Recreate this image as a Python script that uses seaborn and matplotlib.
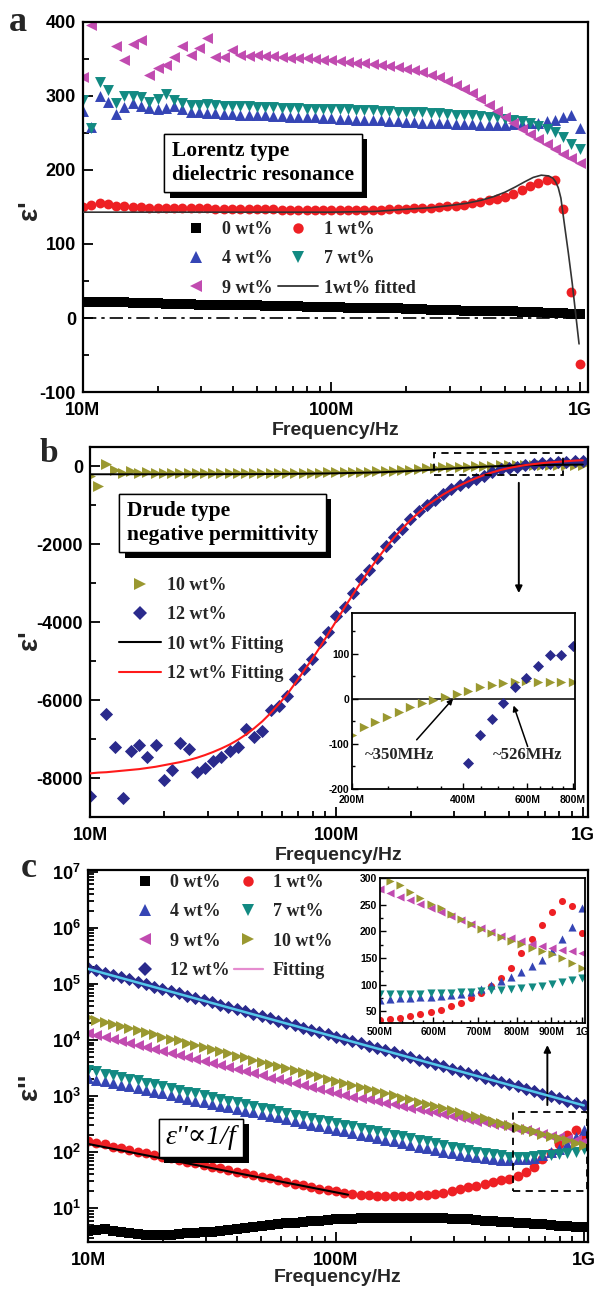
import numpy as np
import matplotlib
matplotlib.use("Agg")
import matplotlib.pyplot as plt
import seaborn as sns
from matplotlib import ticker
from matplotlib import patheffects as pe
from matplotlib.lines import Line2D
from matplotlib.patches import Rectangle

# ---------------- data ----------------
freq = np.logspace(7, 9, 61)          # measurement sweep (Hz), 61 log-spaced points

# panel a : epsilon'
a_0wt = [22,22,21,21,21,21,20,20,20,20,
         19,19,19,19,18,18,18,18,17,17,
         17,17,16,16,16,16,16,15,15,15,
         15,15,14,14,14,13,13,13,13,12,
         12,12,11,11,11,11,10,10,10,9,
         9,9,9,8,8,8,7,7,7,6,
         6]
a_1wt = [150,153,155,154,152,151,150,150,149,149,
         149,148,148,148,148,148,147,147,147,147,
         147,147,147,147,146,146,146,146,146,146,
         146,146,146,146,146,146,146,147,147,147,
         148,148,149,150,151,152,153,155,157,159,
         161,164,168,173,178,183,186,186,147,35,
         -62]
a_4wt = [280,258,300,292,276,285,290,287,284,282,
         284,286,282,278,278,277,277,276,276,275,
         275,274,274,273,273,272,272,271,271,270,
         270,269,269,268,268,267,267,266,266,265,
         265,264,264,263,263,262,262,262,261,261,
         261,261,262,262,263,264,266,268,271,274,
         257]
a_7wt = [295,257,319,308,290,300,300,298,292,296,
         303,294,290,288,288,289,288,287,287,286,
         286,285,285,285,284,284,284,283,283,283,
         282,282,282,281,281,281,280,280,279,279,
         278,278,277,277,276,275,275,274,273,272,
         271,269,268,266,263,260,256,251,244,235,
         228]
a_9wt = [326,396,425,415,367,349,370,376,328,338,
         342,353,367,356,365,378,353,353,362,356,
         354,355,354,354,353,352,352,351,350,349,
         348,347,346,345,344,343,342,340,339,337,
         335,332,329,326,320,315,310,304,296,288,
         280,271,263,256,249,242,235,228,222,216,
         210]
a_fit_MHz = [10, 50, 100, 150, 200, 250, 300, 350, 400, 450, 500, 550, 600,
             650, 700, 750, 780, 800, 820, 840, 870, 900, 933, 966, 994]
a_fit_val = [143, 143, 143, 144, 147, 149, 152, 155, 159, 164, 170, 177, 184,
             190, 193, 192, 189, 184, 176, 162, 124, 88, 47, 2, -35]

# panel b : epsilon'
b_10wt = [-250,-500,60,-80,-180,-120,-160,-150,-170,-160,
          -170,-160,-175,-170,-165,-170,-175,-170,-165,-170,
          -170,-168,-165,-165,-162,-160,-160,-158,-155,-152,
          -150,-146,-142,-137,-131,-124,-116,-107,-97,-80,
          -64,-50,-37,-26,-16,-7,-1,7,13,21,
          28,34,37,39,40,38,37,36,36,35,
          35]
b_12wt = [-8450,np.nan,-6350,-7200,-8500,-7300,-7150,-7450,-7150,-8050,
          -7800,-7100,-7250,-7850,-7750,-7550,-7450,-7300,-7200,-6750,
          -6950,-6800,-6250,-6150,-5900,-5450,-5200,-4950,-4500,-4250,
          -3850,-3600,-3250,-2900,-2650,-2350,-2050,-1800,-1600,-1350,
          -1150,-1000,-850,-700,-580,-470,-400,-330,-250,-140,
          -75,-40,-10,30,55,90,98,115,125,135,
          140]
b_fit12 = [-7880,-7860,-7850,-7830,-7810,-7790,-7770,-7740,-7710,-7670,
           -7630,-7590,-7540,-7480,-7410,-7330,-7240,-7140,-7020,-6880,
           -6720,-6540,-6330,-6100,-5850,-5560,-5260,-4960,-4640,-4300,
           -3960,-3620,-3290,-2970,-2660,-2370,-2090,-1830,-1600,-1380,
           -1190,-1010,-860,-720,-600,-490,-390,-300,-220,-150,
           -90,-40,0,35,60,85,105,120,135,150,
           160]
b_fit10_MHz = [10, 20, 30, 50, 70, 100, 150, 200, 250, 300, 400, 500, 600, 800, 1000]
b_fit10_val = [-200, -200, -198, -195, -188, -175, -150, -115, -80, -50, -5, 20, 32, 42, 48]

# panel b inset (200M - 800M)
bi_freq = np.geomspace(2e8, 8e8, 20)
bi_10wt = [-80,-63,-51,-40,-29,-19,-9,-3,4,10,17,25,31,35,38,40,38,38,36,36]
bi_12wt = [-1400,-1250,-1100,-950,-800,-680,-560,-450,-350,-260,
           -142,-80,-44,-10,25,47,73,98,98,117]

# panel c : epsilon'' (log10 of the value)
c_0wt_log = [0.60,0.62,0.63,0.60,0.57,0.55,0.54,0.53,0.53,0.53,
             0.53,0.54,0.55,0.56,0.57,0.58,0.60,0.61,0.63,0.65,
             0.66,0.68,0.70,0.71,0.73,0.74,0.76,0.77,0.78,0.79,
             0.80,0.81,0.81,0.82,0.82,0.83,0.83,0.83,0.83,0.83,
             0.83,0.83,0.82,0.82,0.81,0.81,0.80,0.79,0.78,0.77,
             0.76,0.75,0.74,0.73,0.72,0.71,0.70,0.69,0.68,0.67,
             0.66]
c_1wt_log = [2.19,2.17,2.14,2.10,2.07,2.04,2.01,1.98,1.95,1.92,
             1.89,1.86,1.83,1.80,1.77,1.74,1.71,1.68,1.65,1.62,
             1.59,1.56,1.53,1.50,1.47,1.44,1.41,1.38,1.35,1.32,
             1.30,1.28,1.26,1.24,1.23,1.22,1.22,1.21,1.21,1.22,
             1.23,1.24,1.26,1.28,1.31,1.34,1.37,1.40,1.43,1.47,
             1.50,1.52,1.58,1.64,1.74,1.87,1.99,2.15,2.30,2.40,
             2.29]
c_4wt_log = [3.32,3.29,3.26,3.23,3.20,3.17,3.14,3.11,3.08,3.05,
             3.01,2.98,2.95,2.92,2.89,2.86,2.83,2.80,2.77,2.74,
             2.71,2.68,2.65,2.62,2.59,2.56,2.52,2.49,2.46,2.43,
             2.40,2.37,2.34,2.31,2.28,2.25,2.22,2.19,2.16,2.13,
             2.10,2.07,2.04,2.01,1.98,1.95,1.93,1.91,1.89,1.87,
             1.86,1.86,1.87,1.88,1.90,1.94,2.00,2.06,2.15,2.27,
             2.39]
c_7wt_log = [3.47,3.44,3.40,3.37,3.34,3.31,3.28,3.24,3.21,3.18,
             3.15,3.11,3.08,3.05,3.02,2.99,2.95,2.92,2.89,2.86,
             2.83,2.79,2.76,2.73,2.70,2.67,2.64,2.61,2.58,2.55,
             2.52,2.49,2.46,2.43,2.40,2.37,2.34,2.31,2.28,2.25,
             2.22,2.19,2.16,2.13,2.10,2.07,2.04,2.01,1.99,1.97,
             1.94,1.92,1.92,1.92,1.93,1.94,1.95,1.96,1.99,2.01,
             2.05]
c_9wt_log = [4.12,4.08,4.05,4.01,3.98,3.94,3.91,3.87,3.83,3.80,
             3.76,3.73,3.69,3.66,3.62,3.58,3.55,3.51,3.48,3.44,
             3.41,3.37,3.33,3.30,3.26,3.23,3.19,3.16,3.12,3.09,
             3.05,3.02,2.99,2.96,2.94,2.91,2.88,2.85,2.82,2.79,
             2.76,2.74,2.71,2.68,2.65,2.62,2.59,2.56,2.53,2.51,
             2.48,2.45,2.42,2.39,2.36,2.33,2.29,2.27,2.24,2.22,
             2.20]
c_10wt_log = [4.40,4.36,4.32,4.29,4.25,4.21,4.17,4.14,4.10,4.06,
              4.02,3.99,3.95,3.91,3.87,3.84,3.80,3.76,3.72,3.69,
              3.65,3.61,3.57,3.54,3.50,3.46,3.42,3.39,3.35,3.31,
              3.27,3.24,3.20,3.16,3.12,3.09,3.05,3.01,2.97,2.94,
              2.90,2.86,2.82,2.79,2.75,2.71,2.67,2.64,2.60,2.56,
              2.52,2.48,2.45,2.42,2.37,2.33,2.29,2.26,2.22,2.17,
              2.12]
c_12wt_log = [5.28,5.24,5.20,5.16,5.12,5.08,5.04,4.99,4.95,4.91,
              4.87,4.83,4.79,4.75,4.71,4.67,4.63,4.59,4.55,4.51,
              4.47,4.43,4.39,4.34,4.30,4.26,4.22,4.18,4.14,4.10,
              4.06,4.02,3.98,3.94,3.90,3.86,3.82,3.78,3.74,3.69,
              3.65,3.61,3.57,3.53,3.49,3.45,3.41,3.37,3.33,3.29,
              3.25,3.21,3.17,3.13,3.09,3.04,3.00,2.96,2.92,2.88,
              2.84]
c_fit1_MHz = [10, 112]
c_fit1_val = [140, 17.4]
c_fit12_MHz = [10, 1000]
c_fit12_val = [1.85e5, 680]

# panel c inset (500M - 1G)
ci_freq = np.geomspace(5e8, 1e9, 21)
ci_1wt = [33,35,38,41,44,48,53,59,66,75,85,98,113,132,160,186,212,237,256,248,196]
ci_4wt = [72,73,74,75,76,77,78,80,83,87,92,100,107,115,123,134,147,164,186,208,244]
ci_7wt = [83,83,83,83,83,84,84,85,86,87,88,89,90,91,93,95,98,101,104,108,112]
ci_9wt = [280,272,265,258,251,243,236,229,222,214,206,198,192,187,181,177,172,169,165,163,159]
ci_10wt = [305,295,286,273,262,252,243,233,223,213,204,196,189,182,176,169,163,158,150,141,131]

freq_ticks = [1e7, 1e8, 1e9]
freq_ticklabels = ["10M", "100M", "1G"]
c_decades = [1e1, 1e2, 1e3, 1e4, 1e5, 1e6, 1e7]

# ---------------- style ----------------
sns.set_style("ticks")
plt.rcParams["font.family"] = ["Liberation Sans", "DejaVu Sans"]
plt.rcParams["font.weight"] = "bold"
plt.rcParams["axes.labelweight"] = "bold"
plt.rcParams["axes.unicode_minus"] = False
plt.rcParams["mathtext.fontset"] = "custom"
plt.rcParams["mathtext.rm"] = "Liberation Sans:bold"
plt.rcParams["mathtext.bf"] = "Liberation Sans:bold"
plt.rcParams["mathtext.default"] = "bf"
SERIF = ["Liberation Serif", "DejaVu Serif"]

C_BLACK = "black"
C_RED = "#ee2024"
C_BLUE = "#3545b5"
C_TEAL = "#128a82"
C_MAG = "#c14bb0"
C_OLIVE = "#9a9830"
C_NAVY = "#2a2a8c"
C_CYAN = "#55c8ea"
C_PINK = "#e58ccf"

W, H = 598, 1290
fig = plt.figure(figsize=(W / 100, H / 100), dpi=100)
fig.patch.set_facecolor("white")


def add_ax(l, t, r, b):
    return fig.add_axes([l / W, 1 - b / H, (r - l) / W, (b - t) / H])


def P(px, py):
    return (px / W, 1 - py / H)


def style_main(ax, xmax, labelpad=1.5):
    ax.set_xscale("log")
    ax.set_xlim(1e7, xmax)
    ax.xaxis.set_major_locator(ticker.FixedLocator(freq_ticks))
    ax.xaxis.set_major_formatter(ticker.FixedFormatter(freq_ticklabels))
    ax.xaxis.set_minor_locator(ticker.LogLocator(base=10, subs=np.arange(2, 10), numticks=10))
    ax.xaxis.set_minor_formatter(ticker.NullFormatter())
    ax.tick_params(which="both", direction="in", top=False, right=False, width=1.3, colors="black")
    ax.tick_params(which="major", length=7, labelsize=13, pad=5)
    ax.tick_params(axis="x", which="major", pad=7.5)
    ax.tick_params(which="minor", length=4)
    for s in ax.spines.values():
        s.set_linewidth(1.6)
        s.set_color("black")
    ax.set_xlabel("Frequency/Hz", fontsize=14, labelpad=labelpad)
    ax.set_ylabel("")
    ax.set_facecolor("white")


def style_inset(ax):
    ax.tick_params(which="both", direction="in", top=False, right=False, width=1.0, colors="black")
    ax.tick_params(which="major", length=4, labelsize=7.5, pad=2)
    ax.tick_params(axis="x", which="major", pad=4.5)
    ax.tick_params(which="minor", length=2.5)
    for s in ax.spines.values():
        s.set_linewidth(1.3)
        s.set_color("black")
    ax.set_xlabel("")
    ax.set_ylabel("")
    ax.set_facecolor("white")


def sc(ax, x, y, marker, color, s, z=2):
    sns.scatterplot(x=np.asarray(x, float), y=np.asarray(y, float), ax=ax, marker=marker,
                    color=color, s=s, linewidth=0, legend=False, zorder=z)


def ln(ax, x, y, color, lw, z=4, ls="-"):
    sns.lineplot(x=np.asarray(x, float), y=np.asarray(y, float), ax=ax, color=color,
                 linewidth=lw, estimator=None, sort=False, zorder=z, linestyle=ls, legend=False)


def boxed(px, py, s, size, ha="left", style="normal", weight="bold", pad=0.35, ls=1.15):
    x, y = P(px, py)
    t = fig.text(x, y, s, color="black", fontsize=size, family=SERIF, weight=weight, style=style,
                 ha=ha, va="center", linespacing=ls, zorder=10,
                 bbox=dict(boxstyle=f"square,pad={pad}", fc="white", ec="black", lw=1.0))
    t.get_bbox_patch().set_path_effects([
        pe.withSimplePatchShadow(offset=(3.8, -3.8), shadow_rgbFace="black", alpha=1.0),
        pe.Normal()])
    return t


def mk(marker, color, ms):
    return Line2D([], [], marker=marker, color=color, linestyle="none", markersize=ms,
                  markeredgewidth=0)


def lk(color, lw=1.5):
    return Line2D([], [], color=color, lw=lw)


LEG_PROP = dict(family=SERIF, weight="bold", size=13)

# ---------------- panel a ----------------
ax_a = add_ax(83, 22, 588, 392)
ax_a.axhline(0, color="black", lw=1.2, linestyle=(0, (8, 3, 2, 3)), zorder=1)
sc(ax_a, freq, a_0wt, "s", C_BLACK, 42)
sc(ax_a, freq, a_1wt, "o", C_RED, 50)
sc(ax_a, freq, a_4wt, "^", C_BLUE, 62)
sc(ax_a, freq, a_7wt, "v", C_TEAL, 62)
sc(ax_a, freq, a_9wt, "<", C_MAG, 62)
ln(ax_a, np.array(a_fit_MHz) * 1e6, a_fit_val, "#333333", 1.2)
style_main(ax_a, 1.08e9)
ax_a.set_ylim(-100, 400)
ax_a.yaxis.set_major_locator(ticker.MultipleLocator(100))
ax_a.yaxis.set_minor_locator(ticker.MultipleLocator(50))

h_a = [mk("s", C_BLACK, 7), mk("^", C_BLUE, 9), mk("<", C_MAG, 9),
       mk("o", C_RED, 7.5), mk("v", C_TEAL, 9), lk("#333333", 1.3)]
l_a = ["0 wt%", "4 wt%", "9 wt%", "1 wt%", "7 wt%", "1wt% fitted"]
ax_a.legend(h_a, l_a, loc="upper left", bbox_to_anchor=P(176, 221), bbox_transform=fig.transFigure,
            ncol=2, frameon=False, prop=LEG_PROP, handlelength=2.2, handletextpad=0.35,
            columnspacing=0.3, labelspacing=0.68, borderaxespad=0, borderpad=0)
boxed(172, 163, "Lorentz type\ndielectric resonance", 15.5, ls=1.25)

# ---------------- panel b ----------------
ax_b = add_ax(90, 447, 588, 817)
sc(ax_b, freq, b_10wt, ">", C_OLIVE, 62)
sc(ax_b, freq, b_12wt, "D", C_NAVY, 45)
ln(ax_b, np.array(b_fit10_MHz) * 1e6, b_fit10_val, "black", 1.4)
ln(ax_b, freq, b_fit12, "#ff1a1a", 1.5, z=5)
style_main(ax_b, 1.05e9)
ax_b.set_ylim(-9000, 500)
ax_b.yaxis.set_major_locator(ticker.MultipleLocator(2000))
ax_b.yaxis.set_minor_locator(ticker.MultipleLocator(1000))
ax_b.add_patch(Rectangle((2.5e8, -220), 8.3e8 - 2.5e8, 570, fill=False, ec="black",
                         lw=1.3, ls=(0, (4, 3)), zorder=6))
ax_b.annotate("", xy=(5.5e8, -3250), xytext=(5.5e8, -420),
              arrowprops=dict(arrowstyle="-|>", color="black", lw=1.4, mutation_scale=10,
                              shrinkA=0, shrinkB=0))
h_b = [mk(">", C_OLIVE, 9), mk("D", C_NAVY, 7), lk("black", 1.5), lk("#ff1a1a", 1.5)]
l_b = ["10 wt%", "12 wt%", "10 wt% Fitting", "12 wt% Fitting"]
ax_b.legend(h_b, l_b, loc="upper left", bbox_to_anchor=P(119, 577), bbox_transform=fig.transFigure,
            ncol=1, frameon=False, prop=LEG_PROP, handlelength=2.35, handletextpad=0.3,
            labelspacing=0.68, borderaxespad=0, borderpad=0)
boxed(127, 523, "Drude type\nnegative permittivity", 15.5, ls=1.25)

# inset b
ax_bi = add_ax(352, 613, 575, 789)
ax_bi.axhline(0, color="black", lw=1.1, zorder=1)
sc(ax_bi, bi_freq, bi_10wt, ">", C_OLIVE, 45)
sc(ax_bi, bi_freq, bi_12wt, "D", C_NAVY, 32)
ax_bi.set_xscale("log")
ax_bi.set_xlim(2e8, 8.1e8)
ax_bi.set_ylim(-200, 190)
ax_bi.xaxis.set_major_locator(ticker.FixedLocator([2e8, 4e8, 6e8, 8e8]))
ax_bi.xaxis.set_major_formatter(ticker.FixedFormatter(["200M", "400M", "600M", "800M"]))
ax_bi.xaxis.set_minor_locator(ticker.MultipleLocator(5e7))
ax_bi.xaxis.set_minor_formatter(ticker.NullFormatter())
ax_bi.yaxis.set_major_locator(ticker.MultipleLocator(100))
ax_bi.yaxis.set_minor_locator(ticker.MultipleLocator(50))
style_inset(ax_bi)
ann_kw = dict(arrowprops=dict(arrowstyle="-|>", color="black", lw=1.1, mutation_scale=8,
                              shrinkA=0, shrinkB=0))
ax_bi.annotate("", xy=(3.77e8, 0), xytext=(3.0e8, -91), **ann_kw)
ax_bi.annotate("", xy=(5.51e8, -15), xytext=(6.02e8, -106), **ann_kw)
ax_bi.text(2.7e8, -124, "~350MHz", ha="center", va="center", fontsize=12, family=SERIF, weight="bold")
ax_bi.text(6.01e8, -124, "~526MHz", ha="center", va="center", fontsize=12, family=SERIF, weight="bold")

# ---------------- panel c ----------------
ax_c = add_ax(88, 870, 588, 1242)
sc(ax_c, freq, 10 ** np.array(c_0wt_log), "s", C_BLACK, 42)
sc(ax_c, freq, 10 ** np.array(c_1wt_log), "o", C_RED, 50)
sc(ax_c, freq, 10 ** np.array(c_4wt_log), "^", C_BLUE, 62)
sc(ax_c, freq, 10 ** np.array(c_7wt_log), "v", C_TEAL, 62)
sc(ax_c, freq, 10 ** np.array(c_9wt_log), "<", C_MAG, 62)
sc(ax_c, freq, 10 ** np.array(c_10wt_log), ">", C_OLIVE, 62)
sc(ax_c, freq, 10 ** np.array(c_12wt_log), "D", C_NAVY, 45)
ln(ax_c, np.array(c_fit1_MHz) * 1e6, c_fit1_val, "black", 1.5)
ln(ax_c, np.array(c_fit12_MHz) * 1e6, c_fit12_val, C_CYAN, 1.8)
style_main(ax_c, 1.04e9, labelpad=0)
ax_c.set_yscale("log")
ax_c.set_ylim(2.5, 1.07e7)
ax_c.yaxis.set_major_locator(ticker.FixedLocator(c_decades))
ax_c.yaxis.set_minor_locator(ticker.FixedLocator(
    [m * d for d in [1, 10, 100, 1e3, 1e4, 1e5, 1e6] for m in range(2, 10) if 2.5 <= m * d <= 1.07e7]))
ax_c.yaxis.set_major_formatter(ticker.FixedFormatter([r"$10^{%d}$" % k for k in range(1, 8)]))
ax_c.yaxis.set_minor_formatter(ticker.NullFormatter())
ax_c.add_patch(Rectangle((5.18e8, 20), 1.03e9 - 5.18e8, 525 - 20, fill=False, ec="black",
                         lw=1.3, ls=(0, (4, 3)), zorder=6))
ax_c.annotate("", xy=(7.13e8, 8100), xytext=(7.13e8, 690),
              arrowprops=dict(arrowstyle="-|>", color="black", lw=1.4, mutation_scale=10,
                              shrinkA=0, shrinkB=0))
h_c = [mk("s", C_BLACK, 7), mk("^", C_BLUE, 9), mk("<", C_MAG, 9), mk("D", C_NAVY, 7),
       mk("o", C_RED, 7.5), mk("v", C_TEAL, 9), mk(">", C_OLIVE, 9), lk(C_PINK, 1.6)]
l_c = ["0 wt%", "4 wt%", "9 wt%", "12 wt%", "1 wt%", "7 wt%", "10 wt%", "Fitting"]
ax_c.legend(h_c, l_c, loc="upper left", bbox_to_anchor=P(131, 874), bbox_transform=fig.transFigure,
            ncol=2, frameon=False, prop=LEG_PROP, handlelength=1.6, handletextpad=0.55,
            columnspacing=0.25, labelspacing=0.68, borderaxespad=0, borderpad=0)
boxed(201, 1138, "ε''∝1/f", 20, ha="center", style="italic", weight="normal", pad=0.25)

# inset c
ax_ci = add_ax(380, 878, 585, 1023)
sc(ax_ci, ci_freq, ci_1wt, "o", C_RED, 26)
sc(ax_ci, ci_freq, ci_4wt, "^", C_BLUE, 34)
sc(ax_ci, ci_freq, ci_7wt, "v", C_TEAL, 34)
sc(ax_ci, ci_freq, ci_9wt, "<", C_MAG, 34)
sc(ax_ci, ci_freq, ci_10wt, ">", C_OLIVE, 34)
ax_ci.set_xscale("log")
ax_ci.set_xlim(5e8, 1.01e9)
ax_ci.set_ylim(28, 300)
ax_ci.xaxis.set_major_locator(ticker.FixedLocator([5e8, 6e8, 7e8, 8e8, 9e8, 1e9]))
ax_ci.xaxis.set_major_formatter(ticker.FixedFormatter(["500M", "600M", "700M", "800M", "900M", "1G"]))
ax_ci.xaxis.set_minor_locator(ticker.MultipleLocator(2e7))
ax_ci.xaxis.set_minor_formatter(ticker.NullFormatter())
ax_ci.yaxis.set_major_locator(ticker.MultipleLocator(50))
ax_ci.yaxis.set_minor_locator(ticker.MultipleLocator(25))
style_inset(ax_ci)
ax_ci.tick_params(axis="x", which="major", pad=3)

# ---------------- labels ----------------
fig.text(*P(30, 210), "ε'", rotation=90, ha="center", va="center", fontsize=20, weight="bold")
fig.text(*P(30, 640), "ε'", rotation=90, ha="center", va="center", fontsize=20, weight="bold")
fig.text(*P(30, 1087), "ε''", rotation=90, ha="center", va="center", fontsize=20, weight="bold")
fig.text(*P(9, 31), "a", ha="left", va="baseline", fontsize=26, family=SERIF, weight="bold")
fig.text(*P(40, 462), "b", ha="left", va="baseline", fontsize=24, family=SERIF, weight="bold")
fig.text(*P(21, 877), "c", ha="left", va="baseline", fontsize=26, family=SERIF, weight="bold")

fig.savefig("out.png", dpi=100, facecolor="white")
